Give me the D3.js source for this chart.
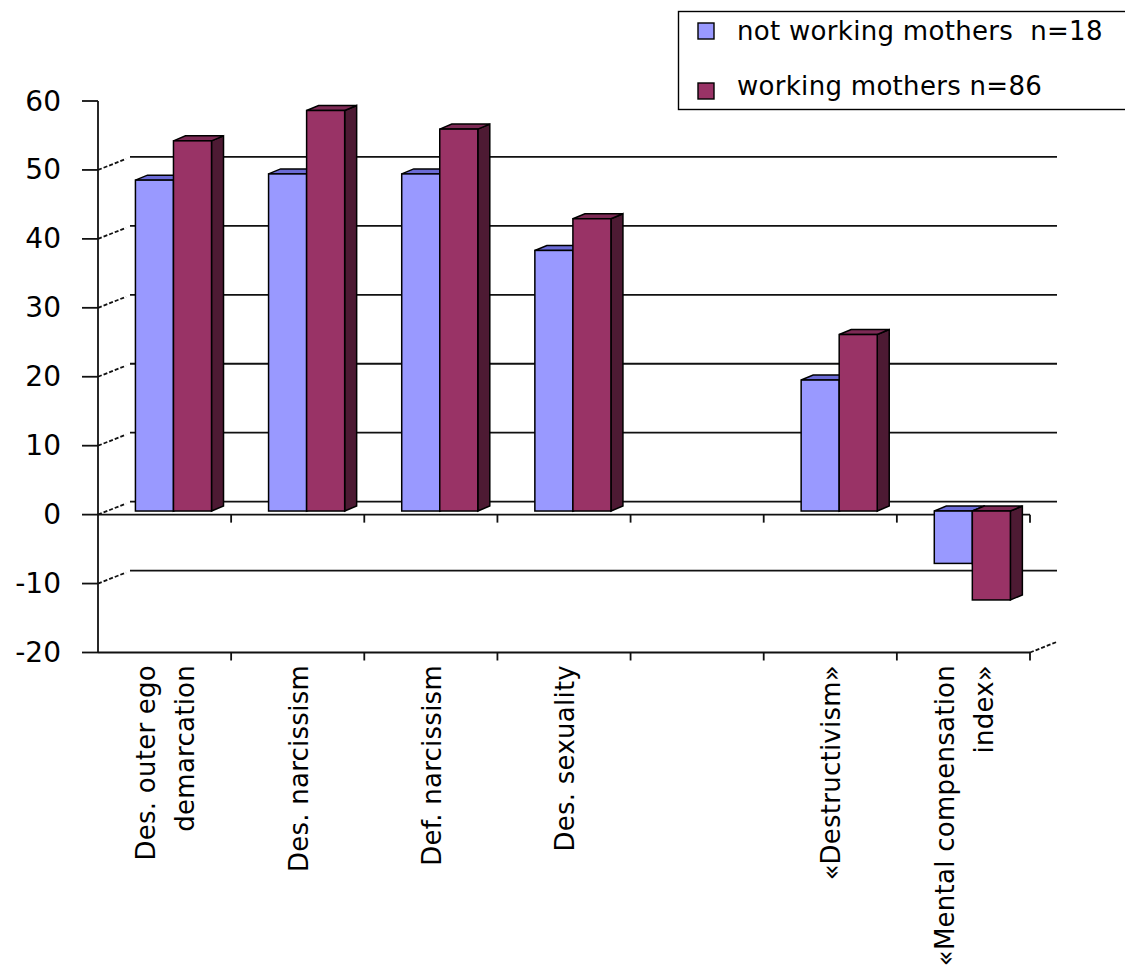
<!DOCTYPE html>
<html lang="en">
<head>
  <meta charset="UTF-8">
  <script src="https://cdn.jsdelivr.net/npm/d3@7"></script>
  <title>Mothers</title>
  <style>
    body { margin: 0; background: #fff; }
    text { font-family: "DejaVu Sans", Verdana, sans-serif; fill: #000; }
    .line { stroke: #111; stroke-width: 1.8; fill: none; }
    .dash { stroke: #111; stroke-width: 1.8; stroke-dasharray: 4 2; fill: none; }
    .face { stroke: #000; stroke-width: 1.5; stroke-linejoin: miter; }
  </style>
</head>
<body>
<script>
  // chart data
  const categories = [
    ["Des. outer ego", "demarcation"],
    ["Des. narcissism"],
    ["Def. narcissism"],
    ["Des. sexuality"],
    [],
    ["«Destructivism»"],
    ["«Mental compensation", "index»"]
  ];
  const seriesNames = ["not working mothers  n=18", "working mothers n=86"];
  const notWorking = [48.0, 48.9, 48.9, 37.8, null, 19.0, -7.6];
  const working = [53.7, 58.1, 55.4, 42.4, null, 25.6, -12.9];
  const yTicks = [60, 50, 40, 30, 20, 10, 0, -10, -20];

  const colors = ["#9999ff", "#993366"];
  const topColors = ["#6b6bd6", "#7d2a55"];
  const sideColors = ["#4d4d99", "#4d1a33"];

  const W = 1125, H = 967;
  const svg = d3.select("body").append("svg")
    .attr("width", W).attr("height", H);

  const x = d3.scaleBand().domain(d3.range(categories.length)).range([98, 1030]).paddingInner(0);
  const xs = d3.scaleBand().domain([0, 1]).range([0, x.bandwidth()]).paddingOuter(0.75).paddingInner(0);
  const y = d3.scaleLinear().domain([-20, 60]).range([652.5, 101]);

  // wall depth and bar depth offsets
  const DX = 33, DY = -13;
  const bx = 8.9, by = -3.6;
  const sdx = 12, sdy = -5;

  // back wall gridlines
  const inner = yTicks.filter(d => d > -20 && d < 60);
  svg.selectAll("line.grid").data(inner).enter().append("line")
    .attr("class", "line")
    .attr("x1", 98 + DX - 1).attr("x2", 1057)
    .attr("y1", d => y(d) + DY).attr("y2", d => y(d) + DY);

  // dashed depth lines at the left wall
  svg.selectAll("line.depth").data(inner).enter().append("line")
    .attr("class", "dash")
    .attr("x1", 98).attr("y1", d => y(d))
    .attr("x2", 98 + DX - 5).attr("y2", d => y(d) + DY * (DX - 5) / DX);

  svg.append("line").attr("class", "dash")
    .attr("x1", 1030).attr("y1", y(-20))
    .attr("x2", 1030 + DX - 6).attr("y2", y(-20) + DY * (DX - 6) / DX);

  // value axis
  const yAxis = svg.append("g");
  yAxis.append("line").attr("class", "line")
    .attr("x1", 98).attr("x2", 98).attr("y1", y(60)).attr("y2", y(-20));
  yAxis.selectAll("line.tick").data(yTicks).enter().append("line")
    .attr("class", "line")
    .attr("x1", 82).attr("x2", 98)
    .attr("y1", d => y(d)).attr("y2", d => y(d));
  yAxis.selectAll("text").data(yTicks).enter().append("text")
    .attr("x", 61).attr("y", d => y(d))
    .attr("text-anchor", "end")
    .attr("dominant-baseline", "central")
    .style("font-size", "28px")
    .text(d => d);

  // floor front edges (0 and -20) with category ticks
  const bounds = d3.range(categories.length + 1).map(i => 98 + i * x.step());
  [0, -20].forEach(v => {
    svg.append("line").attr("class", "line")
      .attr("x1", 98).attr("x2", 1030).attr("y1", y(v)).attr("y2", y(v));
    svg.selectAll(null).data(bounds.slice(1)).enter().append("line")
      .attr("class", "line")
      .attr("x1", d => d).attr("x2", d => d)
      .attr("y1", y(v)).attr("y2", y(v) + 8);
  });

  // bars
  const rows = [];
  categories.forEach((c, i) => {
    [notWorking, working].forEach((s, k) => {
      if (s[i] != null) rows.push({ i, k, v: s[i] });
    });
  });

  const bars = svg.selectAll("g.bar").data(rows).enter().append("g");
  bars.each(function (d) {
    const g = d3.select(this);
    const x0 = x(d.i) + bx + xs(d.k);
    const w = xs.bandwidth();
    const ya = y(0) + by, yb = y(d.v) + by;
    const top = Math.min(ya, yb), bot = Math.max(ya, yb);
    g.append("polygon").attr("class", "face")
      .attr("fill", sideColors[d.k])
      .attr("points", [[x0 + w, top], [x0 + w + sdx, top + sdy], [x0 + w + sdx, bot + sdy], [x0 + w, bot]].join(" "));
    g.append("polygon").attr("class", "face")
      .attr("fill", topColors[d.k])
      .attr("points", [[x0, top], [x0 + sdx, top + sdy], [x0 + w + sdx, top + sdy], [x0 + w, top]].join(" "));
    g.append("rect").attr("class", "face")
      .attr("fill", colors[d.k])
      .attr("x", x0).attr("y", top).attr("width", w).attr("height", bot - top);
  });

  // category labels, rotated
  const lineGap = 39;
  const labels = svg.selectAll("g.cat").data(categories).enter().append("g");
  labels.each(function (lines, i) {
    const cx = x(i) + x.bandwidth() / 2 + 10;
    const n = lines.length;
    lines.forEach((t, j) => {
      const bx0 = cx + (j - (n - 1) / 2) * lineGap;
      d3.select(this).append("text")
        .attr("transform", `translate(${bx0},665) rotate(-90)`)
        .attr("text-anchor", "end")
        .style("font-size", "26px")
        .style("letter-spacing", "0.25px")
        .text(t);
    });
  });

  // legend
  const legend = svg.append("g");
  legend.append("rect")
    .attr("x", 678.5).attr("y", 11.5).attr("width", 460).attr("height", 98)
    .attr("fill", "#fff").attr("stroke", "#000").attr("stroke-width", 1.4);
  const legendY = [31, 91];
  seriesNames.forEach((name, k) => {
    legend.append("rect")
      .attr("x", 698).attr("y", legendY[k] - 8).attr("width", 16).attr("height", 16)
      .attr("fill", colors[k]).attr("stroke", "#000").attr("stroke-width", 1.4);
    legend.append("text")
      .attr("x", 737).attr("y", legendY[k] + (k === 0 ? 9 : 4))
      .style("font-size", "26px")
      .style("letter-spacing", "0.3px")
      .style("white-space", "pre")
      .text(name);
  });
</script>
</body>
</html>
